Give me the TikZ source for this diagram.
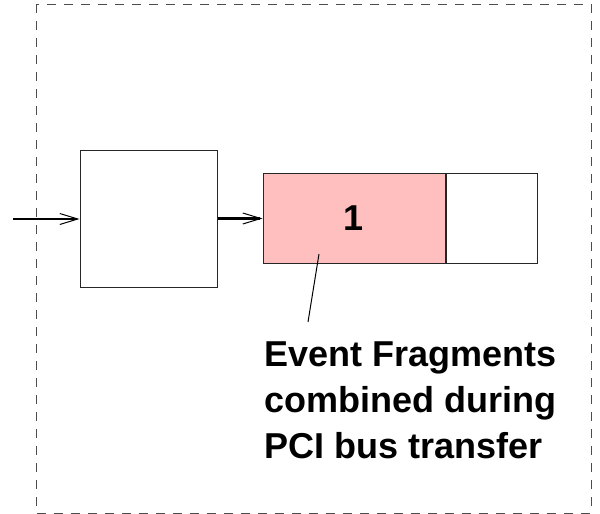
\documentclass[tikz,border=0pt]{standalone}
\usepackage{fontspec}
\setmainfont{Liberation Sans}
\usetikzlibrary{arrows.meta,positioning}
\definecolor{fragpink}{RGB}{255,191,191}

\begin{document}
\begin{tikzpicture}[
    x=0.5pt,y=-0.5pt,
    box/.style={draw=black!85,line width=0.5pt,inner sep=0pt},
    flow/.style={-{Straight Barb[length=9pt,width=5.5pt,line width=0.5pt]},draw=black,line width=1.1pt},
    label/.style={font=\bfseries\fontsize{18}{23}\selectfont,align=left,inner sep=0pt}
  ]
    \useasboundingbox (0,0) rectangle (600,514);
    % frame
    \draw[black!70,line width=0.5pt,dash pattern=on 4.5pt off 4pt] (36,4) rectangle (591,513);
    % buffers
    \node[box,minimum width=68.5pt,minimum height=68.5pt] (inbox) at (148.5,218.5) {};
    \node[box,fill=fragpink,minimum width=91pt,minimum height=45pt,right=22.5pt of inbox] (frag)
      {\bfseries\fontsize{18}{21}\selectfont 1};
    \node[box,minimum width=45.5pt,minimum height=45pt,right=0pt of frag] (spare) {};
    \coordinate (start) at (13,219);
    \draw[flow] (start) -- (inbox.west |- start);
    \draw[flow] (inbox) -- (frag);
    % note
    \node[label,anchor=north west] (note) at (264,341) {Event Fragments\\combined during\\PCI bus transfer};
    \coordinate (pin) at (319,254);
    \coordinate (tail) at (308,322);
    \draw[line width=0.5pt] (pin) -- (tail);
  \end{tikzpicture}
\end{document}
